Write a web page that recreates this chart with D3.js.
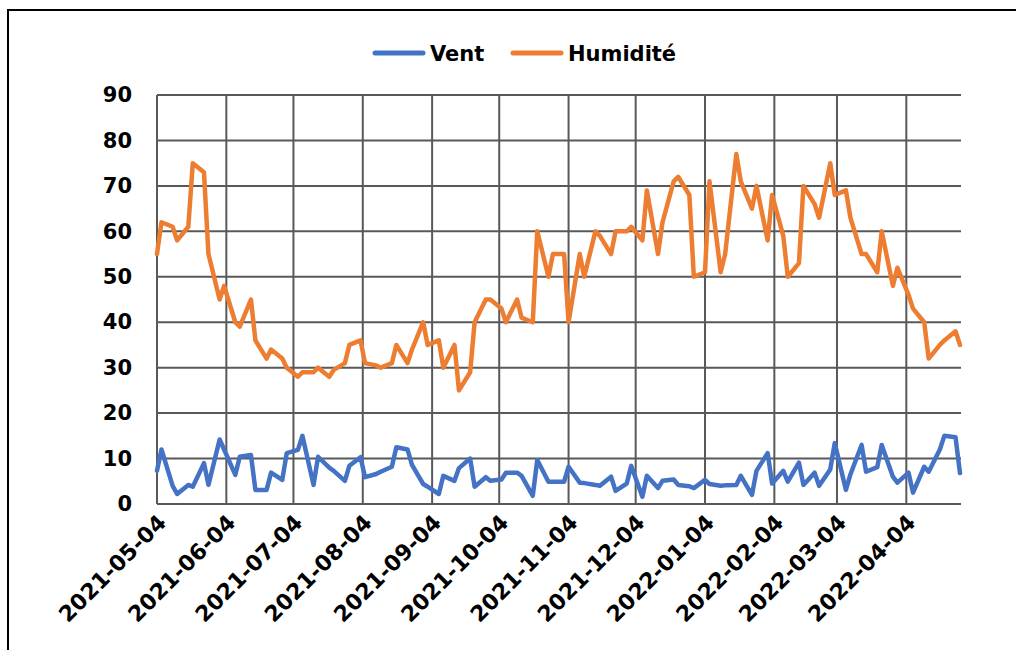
<!DOCTYPE html>
<html>
<head>
<meta charset="utf-8">
<script src="https://cdn.jsdelivr.net/npm/d3@7/dist/d3.min.js"></script>
<style>
  html, body { margin: 0; padding: 0; background: #fff; }
  svg { display: block; }
  text { font-family: "DejaVu Sans", sans-serif; font-weight: bold; fill: #000; }
</style>
</head>
<body>
<svg id="chart" width="1016" height="650"></svg>
<script>
// ---- data ----
const dates = [
"2021-05-04","2021-05-06","2021-05-11","2021-05-13","2021-05-18","2021-05-20","2021-05-25","2021-05-27",
"2021-06-01","2021-06-03","2021-06-08","2021-06-10","2021-06-15","2021-06-17","2021-06-22","2021-06-24","2021-06-29",
"2021-07-01","2021-07-06","2021-07-08","2021-07-13","2021-07-15","2021-07-20","2021-07-22","2021-07-27","2021-07-29",
"2021-08-03","2021-08-05","2021-08-10","2021-08-12","2021-08-17","2021-08-19","2021-08-24","2021-08-26","2021-08-31",
"2021-09-02","2021-09-07","2021-09-09","2021-09-14","2021-09-16","2021-09-21","2021-09-23","2021-09-28","2021-09-30",
"2021-10-05","2021-10-07","2021-10-12","2021-10-14","2021-10-19","2021-10-21","2021-10-26","2021-10-28",
"2021-11-02","2021-11-04","2021-11-09","2021-11-11","2021-11-16","2021-11-18","2021-11-23","2021-11-25","2021-11-30",
"2021-12-02","2021-12-07","2021-12-09","2021-12-14","2021-12-16","2021-12-21","2021-12-23","2021-12-28","2021-12-30",
"2022-01-04","2022-01-06","2022-01-11","2022-01-13","2022-01-18","2022-01-20","2022-01-25","2022-01-27",
"2022-02-01","2022-02-03","2022-02-08","2022-02-10","2022-02-15","2022-02-17","2022-02-22","2022-02-24",
"2022-03-01","2022-03-03","2022-03-08","2022-03-10","2022-03-15","2022-03-17","2022-03-22","2022-03-24","2022-03-29","2022-03-31",
"2022-04-05","2022-04-07","2022-04-12","2022-04-14","2022-04-19","2022-04-21","2022-04-26","2022-04-28"
];

const vent = [
7.3, 12, 4, 2.2, 4.2, 3.8, 9, 4.2,
14.2, 12, 6.4, 10.4, 10.8, 3.1, 3.1, 6.9, 5.3,
11.2, 11.9, 15, 4.2, 10.4, 8, 7.3, 5.1, 8.4,
10.3, 5.9, 6.6, 7.1, 8.2, 12.5, 12, 8.6, 4.4,
3.8, 2.2, 6.2, 5.1, 7.9, 10, 3.8, 5.9, 5.1,
5.4, 6.9, 6.9, 6.2, 1.8, 9.7, 4.9, 4.9,
4.9, 8.2, 4.7, 4.6, 4.2, 4, 6, 2.9, 4.5,
8.4, 1.6, 6.2, 3.5, 5.1, 5.4, 4.2, 3.9, 3.5,
5.3, 4.4, 4, 4.1, 4.2, 6.2, 2, 7.3,
11.2, 4.5, 7.3, 4.9, 9.1, 4.2, 6.9, 4,
7.6, 13.4, 3.1, 6.5, 13, 7.1, 8.1, 13, 6, 4.7,
6.9, 2.5, 8.2, 7.1, 12, 15, 14.7, 6.8
];

const humidite = [
55, 62, 61, 58, 61, 75, 73, 55,
45, 48, 40, 39, 45, 36, 32, 34, 32,
30, 28, 29, 29, 30, 28, 29.5, 31, 35,
36, 31, 30.5, 30, 31, 35, 31, 34, 40,
35, 36, 30, 35, 25, 29, 40, 45, 45,
43, 40, 45, 41, 40, 60, 50, 55,
55, 40, 55, 50, 60, 59, 55, 60, 60,
61, 58, 69, 55, 62, 71, 72, 68, 50,
51, 71, 51, 55, 77, 71, 65, 70,
58, 68, 59, 50, 53, 70, 66, 63,
75, 68, 69, 63, 55, 55, 51, 60, 48, 52,
46, 43, 40, 32, 35, 36, 38, 35
];

const seriesNames = ["Vent", "Humidité"];
const seriesColors = ["#4472C4", "#ED7D31"];
const xTickLabels = ["2021-05-04","2021-06-04","2021-07-04","2021-08-04","2021-09-04","2021-10-04",
  "2021-11-04","2021-12-04","2022-01-04","2022-02-04","2022-03-04","2022-04-04"];
const yTicks = [0, 10, 20, 30, 40, 50, 60, 70, 80, 90];

// ---- chart ----
const parse = d3.utcParse("%Y-%m-%d");
const svg = d3.select("#chart");
const W = 1016, H = 650;
const plot = { left: 157, right: 960, top: 95, bottom: 504 };

svg.append("rect").attr("width", W).attr("height", H).attr("fill", "#fff");
// outer frame
svg.append("rect").attr("x", 8).attr("y", 10).attr("width", W + 10).attr("height", H + 10)
  .attr("fill", "none").attr("stroke", "#000").attr("stroke-width", 2);

const x = d3.scaleUtc()
  .domain([parse(dates[0]), parse(dates[dates.length - 1])])
  .range([plot.left, plot.right]);
const y = d3.scaleLinear().domain([0, 90]).range([plot.bottom, plot.top]);

const tickDates = xTickLabels.map(parse);

// horizontal gridlines
const gridColor = "#595959";
svg.append("g").selectAll("line").data(yTicks).join("line")
  .attr("x1", plot.left).attr("x2", plot.right + 1)
  .attr("y1", d => y(d)).attr("y2", d => y(d))
  .attr("stroke", gridColor).attr("stroke-width", 2);

// vertical gridlines
svg.append("g").selectAll("line").data(tickDates).join("line")
  .attr("x1", d => x(d)).attr("x2", d => x(d))
  .attr("y1", plot.top).attr("y2", plot.bottom)
  .attr("stroke", gridColor).attr("stroke-width", 2);

// y axis labels
const yAxis = d3.axisLeft(y).tickValues(yTicks).tickSize(0).tickPadding(0);
const gy = svg.append("g").attr("transform", `translate(${plot.left - 25},0)`).call(yAxis);
gy.select(".domain").remove();
gy.selectAll("text").attr("font-size", 21).attr("font-family", "DejaVu Sans").attr("font-weight", "bold").attr("fill", "#000");

// x axis labels
const xAxis = d3.axisBottom(x).tickValues(tickDates).tickSize(0).tickFormat(d3.utcFormat("%Y-%m-%d"));
const gx = svg.append("g").attr("transform", `translate(0,${plot.bottom})`).call(xAxis);
gx.select(".domain").remove();
gx.selectAll("text")
  .attr("font-size", 22).attr("font-family", "DejaVu Sans").attr("font-weight", "bold").attr("fill", "#000")
  .attr("text-anchor", "end")
  .attr("dy", null).attr("y", 0)
  .attr("transform", "translate(10,20) rotate(-45)");

// lines
const seriesValues = [vent, humidite];
const line = d3.line().x((d, i) => x(parse(dates[i]))).y(d => y(d));
seriesValues.forEach((vals, si) => {
  svg.append("path").datum(vals)
    .attr("d", line)
    .attr("fill", "none")
    .attr("stroke", seriesColors[si])
    .attr("stroke-width", 4.5)
    .attr("stroke-linejoin", "round")
    .attr("stroke-linecap", "round");
});

// legend
const legendItems = [
  { name: seriesNames[0], color: seriesColors[0], x: 373 },
  { name: seriesNames[1], color: seriesColors[1], x: 511 }
];
const lg = svg.append("g");
legendItems.forEach(it => {
  lg.append("line").attr("x1", it.x + 2).attr("x2", it.x + 50).attr("y1", 53).attr("y2", 53)
    .attr("stroke", it.color).attr("stroke-width", 5).attr("stroke-linecap", "round");
  lg.append("text").attr("x", it.x + 57).attr("y", 61).attr("font-size", 21).text(it.name);
});
</script>
</body>
</html>
